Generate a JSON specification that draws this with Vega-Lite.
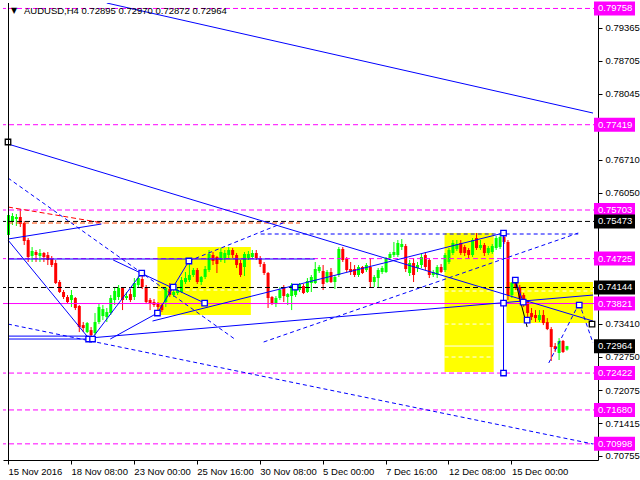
{
"$schema":"https://vega.github.io/schema/vega-lite/v6.json",
"width":595,"height":457,
"autosize":{"type":"none"},
"padding":{"left":3,"top":3,"right":42,"bottom":20},
"background":"#FFFFFF",
"config":{"view":{"stroke":null},"font":"Liberation Sans","axis":{"labelOverlap":false,"labelBound":false,"labelFlush":false}},
"datasets":{
"candles":[
{"i":0,"o":0.752,"h":0.75663,"l":0.75099,"c":0.75602},
{"i":1,"o":0.75461,"h":0.75642,"l":0.75401,"c":0.75582},
{"i":2,"o":0.75522,"h":0.75622,"l":0.75381,"c":0.75562},
{"i":3,"o":0.75562,"h":0.75723,"l":0.75361,"c":0.75421},
{"i":4,"o":0.75441,"h":0.75481,"l":0.74999,"c":0.75079},
{"i":5,"o":0.75099,"h":0.75139,"l":0.74657,"c":0.74757},
{"i":6,"o":0.74777,"h":0.74958,"l":0.74657,"c":0.74878},
{"i":7,"o":0.74858,"h":0.74898,"l":0.74657,"c":0.74797},
{"i":8,"o":0.74777,"h":0.74918,"l":0.74657,"c":0.74838},
{"i":9,"o":0.74838,"h":0.74858,"l":0.74657,"c":0.74757},
{"i":10,"o":0.74797,"h":0.74858,"l":0.74596,"c":0.74697},
{"i":11,"o":0.74717,"h":0.74777,"l":0.74556,"c":0.74596},
{"i":12,"o":0.74636,"h":0.74697,"l":0.74214,"c":0.74234},
{"i":13,"o":0.74254,"h":0.74294,"l":0.74033,"c":0.74053},
{"i":14,"o":0.74053,"h":0.74093,"l":0.73912,"c":0.73952},
{"i":15,"o":0.73952,"h":0.73992,"l":0.73831,"c":0.73851},
{"i":16,"o":0.73892,"h":0.74093,"l":0.73751,"c":0.73992},
{"i":17,"o":0.73932,"h":0.73952,"l":0.7369,"c":0.73731},
{"i":18,"o":0.73771,"h":0.73791,"l":0.73247,"c":0.73348},
{"i":19,"o":0.73388,"h":0.73449,"l":0.73247,"c":0.73328},
{"i":20,"o":0.73247,"h":0.73449,"l":0.73227,"c":0.73428},
{"i":21,"o":0.73287,"h":0.73348,"l":0.73146,"c":0.73186},
{"i":22,"o":0.73227,"h":0.7363,"l":0.73186,"c":0.73449},
{"i":23,"o":0.73449,"h":0.73811,"l":0.73408,"c":0.73751},
{"i":24,"o":0.73569,"h":0.73791,"l":0.73489,"c":0.7371},
{"i":25,"o":0.73549,"h":0.73731,"l":0.73449,"c":0.7365},
{"i":26,"o":0.7363,"h":0.73992,"l":0.7359,"c":0.73932},
{"i":27,"o":0.73892,"h":0.74153,"l":0.73791,"c":0.74073},
{"i":28,"o":0.73952,"h":0.74194,"l":0.73892,"c":0.74133},
{"i":29,"o":0.74133,"h":0.74153,"l":0.7369,"c":0.73892},
{"i":30,"o":0.73932,"h":0.74053,"l":0.73892,"c":0.73972},
{"i":31,"o":0.74012,"h":0.74113,"l":0.73851,"c":0.73892},
{"i":32,"o":0.73952,"h":0.74334,"l":0.73892,"c":0.74234},
{"i":33,"o":0.74194,"h":0.74375,"l":0.74153,"c":0.74334},
{"i":34,"o":0.74314,"h":0.74435,"l":0.74113,"c":0.74153},
{"i":35,"o":0.74153,"h":0.74194,"l":0.73811,"c":0.73851},
{"i":36,"o":0.73892,"h":0.73932,"l":0.7369,"c":0.73831},
{"i":37,"o":0.73851,"h":0.73912,"l":0.73751,"c":0.73791},
{"i":38,"o":0.73831,"h":0.73851,"l":0.7369,"c":0.73751},
{"i":39,"o":0.73791,"h":0.73831,"l":0.7365,"c":0.7369},
{"i":40,"o":0.73851,"h":0.74153,"l":0.73751,"c":0.74133},
{"i":41,"o":0.74113,"h":0.74234,"l":0.73952,"c":0.73992},
{"i":42,"o":0.73992,"h":0.74093,"l":0.73952,"c":0.74053},
{"i":43,"o":0.74033,"h":0.74133,"l":0.73992,"c":0.74093},
{"i":44,"o":0.74053,"h":0.74355,"l":0.74033,"c":0.74294},
{"i":45,"o":0.74254,"h":0.74455,"l":0.74214,"c":0.74334},
{"i":46,"o":0.74294,"h":0.74636,"l":0.74254,"c":0.74395},
{"i":47,"o":0.74395,"h":0.74536,"l":0.74355,"c":0.74496},
{"i":48,"o":0.74496,"h":0.74536,"l":0.74214,"c":0.74254},
{"i":49,"o":0.74254,"h":0.74375,"l":0.74194,"c":0.74355},
{"i":50,"o":0.74355,"h":0.74576,"l":0.74314,"c":0.74516},
{"i":51,"o":0.74496,"h":0.74898,"l":0.74455,"c":0.74818},
{"i":52,"o":0.74797,"h":0.74858,"l":0.74596,"c":0.74677},
{"i":53,"o":0.74757,"h":0.74777,"l":0.74435,"c":0.74616},
{"i":54,"o":0.74697,"h":0.74938,"l":0.74657,"c":0.74858},
{"i":55,"o":0.74737,"h":0.74898,"l":0.74636,"c":0.74838},
{"i":56,"o":0.74797,"h":0.74958,"l":0.74737,"c":0.74898},
{"i":57,"o":0.74898,"h":0.74938,"l":0.74737,"c":0.74797},
{"i":58,"o":0.74797,"h":0.74838,"l":0.74536,"c":0.74596},
{"i":59,"o":0.74636,"h":0.74697,"l":0.74355,"c":0.74395},
{"i":60,"o":0.74556,"h":0.74858,"l":0.74375,"c":0.74818},
{"i":61,"o":0.74737,"h":0.74878,"l":0.74697,"c":0.74818},
{"i":62,"o":0.74757,"h":0.74898,"l":0.74717,"c":0.74838},
{"i":63,"o":0.74838,"h":0.74898,"l":0.74697,"c":0.74737},
{"i":64,"o":0.74737,"h":0.74777,"l":0.74556,"c":0.74616},
{"i":65,"o":0.74616,"h":0.74657,"l":0.74395,"c":0.74435},
{"i":66,"o":0.74435,"h":0.74455,"l":0.73731,"c":0.73932},
{"i":67,"o":0.73952,"h":0.73972,"l":0.73791,"c":0.73811},
{"i":68,"o":0.73831,"h":0.73972,"l":0.73751,"c":0.73932},
{"i":69,"o":0.73932,"h":0.74153,"l":0.73892,"c":0.74093},
{"i":70,"o":0.74153,"h":0.74194,"l":0.73851,"c":0.73972},
{"i":71,"o":0.73952,"h":0.74033,"l":0.73791,"c":0.74012},
{"i":72,"o":0.73972,"h":0.74234,"l":0.7369,"c":0.74194},
{"i":73,"o":0.73992,"h":0.74173,"l":0.73952,"c":0.74133},
{"i":74,"o":0.74093,"h":0.74234,"l":0.74053,"c":0.74214},
{"i":75,"o":0.74173,"h":0.74214,"l":0.74012,"c":0.74033},
{"i":76,"o":0.74053,"h":0.74334,"l":0.74033,"c":0.74274},
{"i":77,"o":0.74234,"h":0.74395,"l":0.74053,"c":0.74355},
{"i":78,"o":0.74234,"h":0.74657,"l":0.74214,"c":0.74516},
{"i":79,"o":0.74475,"h":0.74596,"l":0.74435,"c":0.74556},
{"i":80,"o":0.74475,"h":0.74596,"l":0.74093,"c":0.74214},
{"i":81,"o":0.74254,"h":0.74496,"l":0.74234,"c":0.74455},
{"i":82,"o":0.74455,"h":0.74536,"l":0.74234,"c":0.74254},
{"i":83,"o":0.74254,"h":0.74395,"l":0.74113,"c":0.74355},
{"i":84,"o":0.74395,"h":0.74958,"l":0.74355,"c":0.74918},
{"i":85,"o":0.74918,"h":0.74958,"l":0.74657,"c":0.74697},
{"i":86,"o":0.74717,"h":0.74757,"l":0.74455,"c":0.74496},
{"i":87,"o":0.74516,"h":0.74657,"l":0.74395,"c":0.74455},
{"i":88,"o":0.74516,"h":0.74596,"l":0.74355,"c":0.74395},
{"i":89,"o":0.74395,"h":0.74596,"l":0.74355,"c":0.74556},
{"i":90,"o":0.74556,"h":0.74576,"l":0.74415,"c":0.74435},
{"i":91,"o":0.74496,"h":0.74636,"l":0.74455,"c":0.74596},
{"i":92,"o":0.74556,"h":0.74737,"l":0.74153,"c":0.74254},
{"i":93,"o":0.74254,"h":0.74395,"l":0.74153,"c":0.74355},
{"i":94,"o":0.74334,"h":0.74536,"l":0.74153,"c":0.74496},
{"i":95,"o":0.74455,"h":0.74576,"l":0.74415,"c":0.74536},
{"i":96,"o":0.74455,"h":0.74757,"l":0.74435,"c":0.74737},
{"i":97,"o":0.74737,"h":0.74858,"l":0.74697,"c":0.74818},
{"i":98,"o":0.74797,"h":0.75059,"l":0.74757,"c":0.74858},
{"i":99,"o":0.74797,"h":0.75099,"l":0.74757,"c":0.75039},
{"i":100,"o":0.74958,"h":0.75119,"l":0.74898,"c":0.75019},
{"i":101,"o":0.74978,"h":0.75019,"l":0.74455,"c":0.74516},
{"i":102,"o":0.74435,"h":0.74697,"l":0.74375,"c":0.74636},
{"i":103,"o":0.74636,"h":0.74737,"l":0.74254,"c":0.74395},
{"i":104,"o":0.74536,"h":0.74657,"l":0.74455,"c":0.74596},
{"i":105,"o":0.74596,"h":0.74818,"l":0.74536,"c":0.74757},
{"i":106,"o":0.74797,"h":0.74858,"l":0.74496,"c":0.74556},
{"i":107,"o":0.74697,"h":0.74737,"l":0.74334,"c":0.74395},
{"i":108,"o":0.74395,"h":0.74496,"l":0.74355,"c":0.74455},
{"i":109,"o":0.74395,"h":0.74596,"l":0.74334,"c":0.74556},
{"i":110,"o":0.74556,"h":0.74616,"l":0.74435,"c":0.74455},
{"i":111,"o":0.74496,"h":0.74838,"l":0.74455,"c":0.74797},
{"i":112,"o":0.74657,"h":0.74938,"l":0.74616,"c":0.74898},
{"i":113,"o":0.74838,"h":0.75099,"l":0.74797,"c":0.75039},
{"i":114,"o":0.74918,"h":0.75099,"l":0.74878,"c":0.75019},
{"i":115,"o":0.75039,"h":0.75099,"l":0.74797,"c":0.74838},
{"i":116,"o":0.74958,"h":0.74999,"l":0.74777,"c":0.74838},
{"i":117,"o":0.74898,"h":0.74938,"l":0.74737,"c":0.74797},
{"i":118,"o":0.74797,"h":0.75139,"l":0.74757,"c":0.75099},
{"i":119,"o":0.75139,"h":0.7524,"l":0.74898,"c":0.74938},
{"i":120,"o":0.74938,"h":0.75099,"l":0.74898,"c":0.74999},
{"i":121,"o":0.74999,"h":0.75039,"l":0.74777,"c":0.74838},
{"i":122,"o":0.74838,"h":0.74978,"l":0.74797,"c":0.74938},
{"i":123,"o":0.74858,"h":0.75019,"l":0.74818,"c":0.74978},
{"i":124,"o":0.74938,"h":0.7518,"l":0.74898,"c":0.75139},
{"i":125,"o":0.74958,"h":0.7522,"l":0.74918,"c":0.7516},
{"i":126,"o":0.7516,"h":0.7522,"l":0.75019,"c":0.75059},
{"i":127,"o":0.75059,"h":0.75099,"l":0.73892,"c":0.73992},
{"i":128,"o":0.73992,"h":0.74254,"l":0.73932,"c":0.74234},
{"i":129,"o":0.74254,"h":0.74294,"l":0.74093,"c":0.74153},
{"i":130,"o":0.74153,"h":0.74194,"l":0.73851,"c":0.73932},
{"i":131,"o":0.73992,"h":0.74033,"l":0.73751,"c":0.73791},
{"i":132,"o":0.73851,"h":0.73892,"l":0.73489,"c":0.7363},
{"i":133,"o":0.7363,"h":0.73731,"l":0.73489,"c":0.73549},
{"i":134,"o":0.7359,"h":0.7369,"l":0.73449,"c":0.73529},
{"i":135,"o":0.73489,"h":0.7369,"l":0.73449,"c":0.7359},
{"i":136,"o":0.7359,"h":0.7369,"l":0.73388,"c":0.73428},
{"i":137,"o":0.73449,"h":0.73529,"l":0.73287,"c":0.73307},
{"i":138,"o":0.73307,"h":0.73348,"l":0.72665,"c":0.72946},
{"i":139,"o":0.72966,"h":0.73027,"l":0.72846,"c":0.72906},
{"i":140,"o":0.72826,"h":0.73126,"l":0.72685,"c":0.73067},
{"i":141,"o":0.73067,"h":0.73088,"l":0.72826,"c":0.72846},
{"i":142,"o":0.72895,"h":0.7297,"l":0.72872,"c":0.72964}
],
"yel":[
{"i1":38,"i2":61.75,"p1":0.74958,"p2":0.7359},
{"i1":111,"i2":123.5,"p1":0.7524,"p2":0.72443},
{"i1":126.75,"i2":148.75,"p1":0.74254,"p2":0.73428}
],
"lev":[
{"p":0.79758,"g":"md"},{"p":0.77419,"g":"md"},{"p":0.75703,"g":"md"},{"p":0.74725,"g":"md"},
{"p":0.72422,"g":"md"},{"p":0.7168,"g":"md"},{"p":0.70998,"g":"md"},
{"p":0.73821,"g":"ms"},
{"p":0.75473,"g":"kd"},{"p":0.74144,"g":"kd"}
],
"seg":[
{"g":"bs","i1":25.1,"p1":0.79868,"i2":148.75,"p2":0.77654},
{"g":"bs","i1":0,"p1":0.77031,"i2":148.75,"p2":0.73469},
{"g":"bs","i1":0,"p1":0.75119,"i2":23.75,"p2":0.75421},
{"g":"bs","i1":0,"p1":0.75099,"i2":20.5,"p2":0.73126},
{"g":"bs","i1":0,"p1":0.73166,"i2":20.5,"p2":0.73166},
{"g":"bs","i1":0,"p1":0.73107,"i2":21.5,"p2":0.73107},
{"g":"bs","i1":20.5,"p1":0.73126,"i2":148.75,"p2":0.73992},
{"g":"bs","i1":21.25,"p1":0.73107,"i2":34,"p2":0.74435},
{"g":"bs","i1":26.75,"p1":0.74697,"i2":50,"p2":0.73831},
{"g":"bs","i1":38,"p1":0.7363,"i2":46,"p2":0.74677},
{"g":"bs","i1":26,"p1":0.73107,"i2":38,"p2":0.7363},
{"g":"bs","i1":0,"p1":0.74717,"i2":78,"p2":0.74717},
{"g":"bs","i1":36.75,"p1":0.73469,"i2":126,"p2":0.7524},
{"g":"bs","i1":126,"p1":0.7524,"i2":126,"p2":0.72423},
{"g":"bs","i1":129,"p1":0.74294,"i2":131,"p2":0.73851},
{"g":"bd","i1":46,"p1":0.74677,"i2":70.5,"p2":0.75461},
{"g":"bd","i1":0,"p1":0.76347,"i2":58,"p2":0.73087},
{"g":"bd","i1":0,"p1":0.73408,"i2":148.75,"p2":0.70995},
{"g":"bd","i1":65,"p1":0.73047,"i2":145,"p2":0.7524},
{"g":"bd","i1":64.25,"p1":0.7522,"i2":145,"p2":0.7522},
{"g":"bd","i1":137.5,"p1":0.72625,"i2":145.25,"p2":0.73831},
{"g":"bd","i1":145.25,"p1":0.73831,"i2":148.75,"p2":0.73027},
{"g":"rd","i1":0,"p1":0.75763,"i2":24.25,"p2":0.75441},
{"g":"od","i1":0,"p1":0.75441,"i2":74.25,"p2":0.75441},
{"g":"k","i1":129,"p1":0.74274,"i2":132,"p2":0.73348},
{"g":"wd","i1":38,"p1":0.74093,"i2":61.75,"p2":0.74093},
{"g":"wd","i1":111,"p1":0.74073,"i2":123.5,"p2":0.74073},
{"g":"wd","i1":111,"p1":0.73408,"i2":123.5,"p2":0.73408},
{"g":"wd","i1":111,"p1":0.72745,"i2":123.5,"p2":0.72745},
{"g":"wd","i1":126.75,"p1":0.74073,"i2":148.75,"p2":0.74073},
{"g":"ws","i1":111,"p1":0.72966,"i2":123.5,"p2":0.72966}
],
"sq":[
{"i":20.5,"p":0.73107,"k":"b"},{"i":21.5,"p":0.73107,"k":"b"},{"i":34,"p":0.74435,"k":"b"},
{"i":38,"p":0.7363,"k":"b"},{"i":42,"p":0.74153,"k":"b"},{"i":46,"p":0.74677,"k":"b"},
{"i":50,"p":0.73831,"k":"b"},{"i":73,"p":0.74153,"k":"b"},{"i":126,"p":0.7524,"k":"b"},
{"i":126,"p":0.73831,"k":"b"},{"i":126,"p":0.72423,"k":"b"},{"i":129,"p":0.74294,"k":"b"},
{"i":131,"p":0.73851,"k":"b"},{"i":132,"p":0.73489,"k":"b"},{"i":145.25,"p":0.73791,"k":"b"},
{"i":0,"p":0.77071,"k":"k"},{"i":148.5,"p":0.73408,"k":"k"}
],
"lab":[
{"p":0.79758,"t":"0.79758","k":"m"},{"p":0.77419,"t":"0.77419","k":"m"},{"p":0.75703,"t":"0.75703","k":"m"},
{"p":0.74725,"t":"0.74725","k":"m"},{"p":0.73821,"t":"0.73821","k":"m"},{"p":0.72422,"t":"0.72422","k":"m"},
{"p":0.7168,"t":"0.71680","k":"m"},{"p":0.70998,"t":"0.70998","k":"m"},
{"p":0.75473,"t":"0.75473","k":"k"},{"p":0.74144,"t":"0.74144","k":"k"},{"p":0.72964,"t":"0.72964","k":"k"}
]
},
"layer":[
{"data":{"name":"yel"},"mark":{"type":"rect","fill":"#FFFF00","clip":true},
 "encoding":{
  "x":{"field":"i1","type":"quantitative","scale":{"domain":[0,148.75],"nice":false,"zero":false},
   "axis":{"orient":"bottom","title":null,"values":[0,16,32,48,64,80,96,112,128],
    "labelExpr":"['15 Nov 2016','18 Nov 08:00','23 Nov 00:00','25 Nov 16:00','30 Nov 08:00','5 Dec 00:00','7 Dec 16:00','12 Dec 08:00','15 Dec 00:00'][round(datum.value/16)]",
    "labelAlign":"left","labelBaseline":"top","labelPadding":2,"labelFontSize":9.5,"labelFont":"Liberation Sans","labelColor":"#000000",
    "labelOverlap":false,"labelFlush":false,"labelBound":false,"tickSize":4,"tickColor":"#000000","domainColor":"#000000","grid":false}},
  "x2":{"field":"i2"},
  "y":{"field":"p1","type":"quantitative","scale":{"domain":[0.70673,0.79868],"nice":false,"zero":false},
   "axis":{"orient":"right","title":null,"values":[0.79365,0.78705,0.78045,0.7671,0.7605,0.7341,0.7275,0.72075,0.71415,0.70755],
    "format":".5f","labelAlign":"left","labelPadding":3,"labelFontSize":9.5,"labelFont":"Liberation Sans","labelColor":"#000000",
    "labelOverlap":false,"labelFlush":false,"labelBound":false,"tickSize":4,"tickColor":"#000000","domainColor":"#000000","grid":false}},
  "y2":{"field":"p2"}}},
{"data":{"name":"seg"},"transform":[{"filter":"datum.g=='wd'"}],"mark":{"type":"rule","color":"#FFFFFF","strokeDash":[4,3],"strokeWidth":1,"clip":true},
 "encoding":{"x":{"field":"i1","type":"quantitative"},"x2":{"field":"i2"},"y":{"field":"p1","type":"quantitative"},"y2":{"field":"p2"}}},
{"data":{"name":"seg"},"transform":[{"filter":"datum.g=='ws'"}],"mark":{"type":"rule","color":"#FFFFFF","strokeWidth":1,"clip":true},
 "encoding":{"x":{"field":"i1","type":"quantitative"},"x2":{"field":"i2"},"y":{"field":"p1","type":"quantitative"},"y2":{"field":"p2"}}},
{"data":{"name":"candles"},"mark":{"type":"rule","strokeWidth":1,"xOffset":0.5,"clip":true},
 "encoding":{"x":{"field":"i","type":"quantitative"},"y":{"field":"l","type":"quantitative"},"y2":{"field":"h"},
  "color":{"condition":{"test":"datum.c>=datum.o","value":"#00FF00"},"value":"#FF0000"}}},
{"data":{"name":"candles"},"mark":{"type":"bar","width":3,"orient":"vertical","xOffset":0.5,"clip":true},
 "encoding":{"x":{"field":"i","type":"quantitative"},"y":{"field":"o","type":"quantitative"},"y2":{"field":"c"},
  "color":{"condition":{"test":"datum.c>=datum.o","value":"#00FF00"},"value":"#FF0000"}}},
{"data":{"name":"lev"},"transform":[{"filter":"datum.g=='md'"}],"mark":{"type":"rule","color":"#FF00FF","strokeDash":[5,3],"strokeWidth":1},
 "encoding":{"y":{"field":"p","type":"quantitative"}}},
{"data":{"name":"lev"},"transform":[{"filter":"datum.g=='ms'"}],"mark":{"type":"rule","color":"#FF00FF","strokeWidth":1},
 "encoding":{"y":{"field":"p","type":"quantitative"}}},
{"data":{"name":"lev"},"transform":[{"filter":"datum.g=='kd'"}],"mark":{"type":"rule","color":"#000000","strokeDash":[5,3],"strokeWidth":1},
 "encoding":{"y":{"field":"p","type":"quantitative"}}},
{"data":{"name":"seg"},"transform":[{"filter":"datum.g=='od'"}],"mark":{"type":"rule","color":"#FF4500","strokeDash":[5,3],"strokeWidth":1,"clip":true},
 "encoding":{"x":{"field":"i1","type":"quantitative"},"x2":{"field":"i2"},"y":{"field":"p1","type":"quantitative"},"y2":{"field":"p2"}}},
{"data":{"name":"seg"},"transform":[{"filter":"datum.g=='rd'"}],"mark":{"type":"rule","color":"#FF0000","strokeDash":[5,3],"strokeWidth":1,"clip":true},
 "encoding":{"x":{"field":"i1","type":"quantitative"},"x2":{"field":"i2"},"y":{"field":"p1","type":"quantitative"},"y2":{"field":"p2"}}},
{"data":{"name":"seg"},"transform":[{"filter":"datum.g=='bs'"}],"mark":{"type":"rule","color":"#0000FF","strokeWidth":1,"clip":true},
 "encoding":{"x":{"field":"i1","type":"quantitative"},"x2":{"field":"i2"},"y":{"field":"p1","type":"quantitative"},"y2":{"field":"p2"}}},
{"data":{"name":"seg"},"transform":[{"filter":"datum.g=='bd'"}],"mark":{"type":"rule","color":"#0000FF","strokeDash":[4,3],"strokeWidth":1,"clip":true},
 "encoding":{"x":{"field":"i1","type":"quantitative"},"x2":{"field":"i2"},"y":{"field":"p1","type":"quantitative"},"y2":{"field":"p2"}}},
{"data":{"name":"seg"},"transform":[{"filter":"datum.g=='k'"}],"mark":{"type":"rule","color":"#000000","strokeWidth":1,"clip":true},
 "encoding":{"x":{"field":"i1","type":"quantitative"},"x2":{"field":"i2"},"y":{"field":"p1","type":"quantitative"},"y2":{"field":"p2"}}},
{"data":{"name":"sq"},"transform":[{"filter":"datum.k=='b'"}],"mark":{"type":"point","shape":"square","size":30,"fill":"#FFFFFF","fillOpacity":1,"stroke":"#0000FF","strokeWidth":1.3,"opacity":1},
 "encoding":{"x":{"field":"i","type":"quantitative"},"y":{"field":"p","type":"quantitative"}}},
{"data":{"name":"sq"},"transform":[{"filter":"datum.k=='k'"}],"mark":{"type":"point","shape":"square","size":30,"fill":"#FFFFFF","fillOpacity":1,"stroke":"#000000","strokeWidth":1.3,"opacity":1},
 "encoding":{"x":{"field":"i","type":"quantitative"},"y":{"field":"p","type":"quantitative"}}},
{"data":{"values":[{}]},"mark":{"type":"rule","color":"#000000","strokeWidth":1,"xOffset":0.5},
 "encoding":{"x":{"datum":0,"type":"quantitative"}}},
{"data":{"name":"lab"},"mark":{"type":"rect","xOffset":1,"x2Offset":42,"yOffset":-7,"y2Offset":7},
 "encoding":{"x":{"datum":148.75,"type":"quantitative"},"x2":{"datum":148.75},
  "y":{"field":"p","type":"quantitative"},"y2":{"field":"p"},
  "color":{"condition":{"test":"datum.k=='m'","value":"#FF00FF"},"value":"#000000"}}},
{"data":{"name":"lab"},"mark":{"type":"text","align":"left","baseline":"middle","dx":5,"color":"#FFFFFF","fontSize":9.5,"font":"Liberation Sans"},
 "encoding":{"x":{"datum":148.75,"type":"quantitative"},"y":{"field":"p","type":"quantitative"},"text":{"field":"t"}}},
{"data":{"values":[{"t":"▼"}]},"mark":{"type":"text","align":"left","baseline":"middle","dx":3,"dy":8,"color":"#000000","fontSize":8,"font":"DejaVu Sans"},
 "encoding":{"x":{"datum":0,"type":"quantitative"},"y":{"datum":0.79868,"type":"quantitative"},"text":{"field":"t"}}},
{"data":{"values":[{"t":"AUDUSD,H4  0.72895 0.72970 0.72872 0.72964"}]},"mark":{"type":"text","align":"left","baseline":"middle","dx":16,"dy":8,"color":"#000000","fontSize":9.5,"font":"Liberation Sans"},
 "encoding":{"x":{"datum":0,"type":"quantitative"},"y":{"datum":0.79868,"type":"quantitative"},"text":{"field":"t"}}}
]
}
